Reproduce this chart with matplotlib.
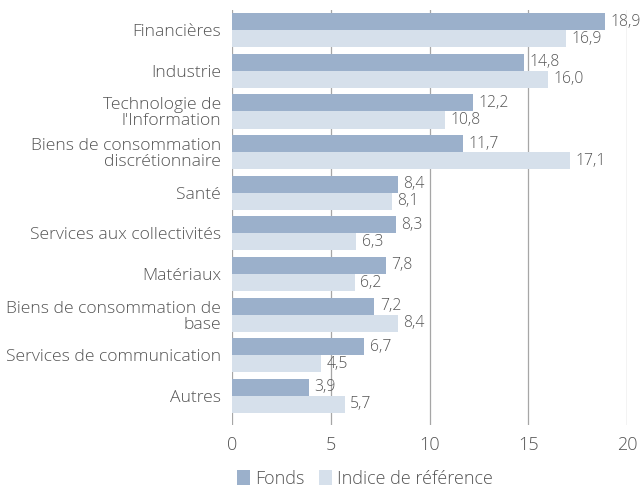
import matplotlib
matplotlib.use("Agg")
import matplotlib.pyplot as plt
import numpy as np

plt.rcParams['font.family'] = ['Open Sans', 'DejaVu Sans']
plt.rcParams['font.weight'] = 'light'

categories = ["Financières", "Industrie", "Technologie de\nl'Information",
              "Biens de consommation\ndiscrétionnaire", "Santé",
              "Services aux collectivités", "Matériaux",
              "Biens de consommation de\nbase", "Services de communication",
              "Autres"]
fonds = [18.9, 14.8, 12.2, 11.7, 8.4, 8.3, 7.8, 7.2, 6.7, 3.9]
indice = [16.9, 16.0, 10.8, 17.1, 8.1, 6.3, 6.2, 8.4, 4.5, 5.7]
xticks = [0, 5, 10, 15, 20]

c_fonds = "#9bb0cb"
c_indice = "#d6e0eb"
txt = "#555555"

fig = plt.figure(figsize=(6.43, 4.91), dpi=100)
ax = fig.add_axes([0.361, 0.134, 0.614, 0.846])

y = np.arange(len(categories))
h = 0.42
b1 = ax.barh(y - h / 2, fonds, height=h, color=c_fonds, label="Fonds", zorder=2)
b2 = ax.barh(y + h / 2, indice, height=h, color=c_indice, label="Indice de référence", zorder=2)

for bars, vals in ((b1, fonds), (b2, indice)):
    for bar, v in zip(bars, vals):
        ax.annotate(f"{v:.1f}".replace(".", ","),
                    (bar.get_width(), bar.get_y() + bar.get_height() / 2),
                    xytext=(4, 0), textcoords="offset points",
                    va="center", ha="left", fontsize=11.3, color=txt)

ax.set_xlim(0, 20)
ax.set_ylim(9.72, -0.5)
ax.set_xticks(xticks)
ax.set_xticklabels([str(t) for t in xticks])
ax.set_yticks(y)
ax.set_yticklabels(categories, fontsize=12.6, color=txt, linespacing=1.0)
ax.tick_params(axis="x", length=0, pad=8, labelsize=13, labelcolor=txt)
ax.tick_params(axis="y", length=0, pad=8)
ax.grid(axis="x", color="#a6a6a6", linewidth=0.9, zorder=0)
for s in ax.spines.values():
    s.set_visible(False)

ax.legend(loc="upper left", bbox_to_anchor=(-0.005, -0.09), ncol=2, frameon=False,
          fontsize=13, labelcolor=txt, handlelength=0.7, handleheight=0.9,
          handletextpad=0.3, columnspacing=0.8, borderaxespad=0)

fig.savefig("out.png", dpi=100)
